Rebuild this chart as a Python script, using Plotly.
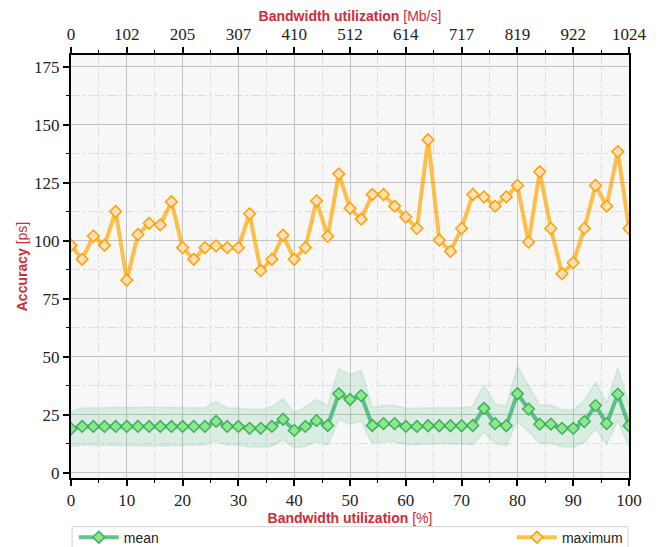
import plotly.graph_objects as go

# ---------------- data ----------------
util_pct = list(range(0, 101, 2))
mean_ps = [19, 20, 20, 20, 20, 20, 20, 20, 20, 20, 20, 20, 20, 22.2, 20, 20, 19.2, 19.2, 20, 23.1,
           18.3, 20, 22.5, 20.4, 34.1, 31.6, 33.3, 20.4, 21.2, 21.2, 20, 20, 20.3, 20.3, 20.3, 20.3,
           20.4, 27.8, 21.2, 20.3, 34.1, 27.5, 21, 21, 19.2, 19.2, 22.1, 29, 21.2, 33.9, 20.3]
std_ps = [7.6, 7.9, 8.1, 8.2, 8.3, 8.4, 8.4, 8.3, 8.3, 8.2, 8.2, 8.0, 8.0, 8.4, 8.0, 8.0, 8.1, 8.2, 8.5, 8.8,
          7.6, 8.5, 9.1, 8.5, 11.0, 10.7, 10.9, 7.7, 7.8, 7.8, 7.8, 7.8, 7.8, 7.8, 7.8, 7.8,
          8.2, 10.2, 8.5, 8.5, 11.8, 9.8, 8.2, 8.2, 8.0, 8.0, 9.0, 10.0, 9.0, 11.3, 9.1]
max_ps = [98, 92, 102, 98, 112.6, 83, 102.7, 107.5, 106.8, 116.8, 97, 92, 97, 97.8, 97, 97, 111.6, 87.2,
          92, 102.4, 92, 97, 117.2, 101.9, 128.8, 114, 109.3, 119.9, 119.9, 114.9, 110.2, 105.3, 143.5,
          100.3, 95.4, 105.3, 119.9, 118.9, 114.9, 118.9, 123.8, 99.4, 129.7, 105.3, 85.8, 90.5, 105.3,
          123.8, 114.9, 138.4, 105.3]
x_ticks = [0, 10, 20, 30, 40, 50, 60, 70, 80, 90, 100]
mbps_labels = ["0", "102", "205", "307", "410", "512", "614", "717", "819", "922", "1024"]
y_ticks = [0, 25, 50, 75, 100, 125, 150, 175]

lower = [m - s for m, s in zip(mean_ps, std_ps)]
upper = [m + s for m, s in zip(mean_ps, std_ps)]

RED = "#d12a38"
SANS = "Liberation Sans"
SERIF = "Liberation Serif"
tickfont = dict(family=SERIF, size=17, color="#222")

fig = go.Figure()
fig.add_trace(go.Scatter(x=util_pct, y=lower, mode="lines",
                         line=dict(color="rgba(60,179,113,0.13)", width=2),
                         showlegend=False, hoverinfo="skip"))
fig.add_trace(go.Scatter(x=util_pct, y=upper, mode="lines", fill="tonexty",
                         fillcolor="rgba(60,179,113,0.15)",
                         line=dict(color="rgba(60,179,113,0.13)", width=2),
                         showlegend=False, hoverinfo="skip"))
fig.add_trace(go.Scatter(x=util_pct, y=mean_ps, mode="lines+markers", name="mean",
                         line=dict(color="rgba(60,179,113,0.8)", width=4),
                         marker=dict(symbol="diamond", size=9, color="#8ee88a",
                                     line=dict(color="#3cb060", width=1.5)),
                         legend="legend"))
fig.add_trace(go.Scatter(x=util_pct, y=max_ps, mode="lines+markers", name="maximum",
                         line=dict(color="rgba(255,165,0,0.7)", width=4),
                         marker=dict(symbol="diamond", size=9, color="#ffe0b8",
                                     line=dict(color="#ffa000", width=1.5)),
                         legend="legend2"))
# carrier for the top axis
fig.add_trace(go.Scatter(x=[0, 100], y=[None, None], xaxis="x2", mode="markers",
                         marker=dict(opacity=0), showlegend=False, hoverinfo="skip"))

fig.update_layout(
    width=659, height=547,
    margin=dict(l=71, r=30, t=55, b=69, autoexpand=False),
    paper_bgcolor="white", plot_bgcolor="#f7f7f7",
    xaxis=dict(range=[0, 100], tickvals=x_ticks, ticks="outside", ticklen=6, tickwidth=1.5,
               tickcolor="black", showline=True, linecolor="black", linewidth=2,
               showgrid=True, gridcolor="#c4c4c4", gridwidth=1, zeroline=False,
               tickfont=tickfont, automargin=False,
               minor=dict(dtick=5, ticks="outside", ticklen=3, tickcolor="black", tickwidth=1,
                          showgrid=True, gridcolor="#dedede", griddash="dashdot", gridwidth=1),
               title=dict(text="<b>Bandwidth utilization</b> [%]", font=dict(family=SANS, size=14, color=RED),
                          standoff=4)),
    xaxis2=dict(range=[0, 100], overlaying="x", side="top", anchor="y", tickvals=x_ticks,
                ticktext=mbps_labels, ticks="outside", ticklen=6, tickwidth=1.5, tickcolor="black",
                showline=True, linecolor="black", linewidth=2, showgrid=False, zeroline=False,
                tickfont=tickfont, automargin=False,
                minor=dict(dtick=5, ticks="outside", ticklen=3, tickcolor="black", tickwidth=1,
                           showgrid=False),
                title=dict(text="<b>Bandwidth utilization</b> [Mb/s]", font=dict(family=SANS, size=14, color=RED),
                           standoff=0)),
    yaxis=dict(range=[-2.2, 180], tickvals=y_ticks, ticks="outside", ticklen=6, tickwidth=1.5,
               tickcolor="black", showline=True, linecolor="black", linewidth=2, mirror=True,
               showgrid=True, gridcolor="#c4c4c4", gridwidth=1, zeroline=False,
               tickfont=tickfont, automargin=False,
               minor=dict(dtick=12.5, ticks="outside", ticklen=3, tickcolor="black", tickwidth=1,
                          showgrid=True, gridcolor="#dedede", griddash="dashdot", gridwidth=1),
               title=dict(text="<b>Accuracy</b> [ps]", font=dict(family=SANS, size=14, color=RED),
                          standoff=3)),
    legend=dict(x=0.005, xanchor="left", y=-0.141, yanchor="middle", orientation="h",
                bgcolor="rgba(0,0,0,0)", font=dict(family=SANS, size=14, color="#222"),
                itemwidth=40),
    legend2=dict(x=0.998, xanchor="right", y=-0.141, yanchor="middle", orientation="h",
                 bgcolor="rgba(0,0,0,0)", font=dict(family=SANS, size=14, color="#222"),
                 itemwidth=40),
    shapes=[dict(type="rect", xref="paper", yref="paper", x0=0.002, x1=0.998, y0=-0.115, y1=-0.25,
                 line=dict(color="#d0d0d0", width=1), fillcolor="white", layer="below")],
)

fig.write_html("out.html", config={"displayModeBar": False},
               post_script="document.body.style.margin='0';")
